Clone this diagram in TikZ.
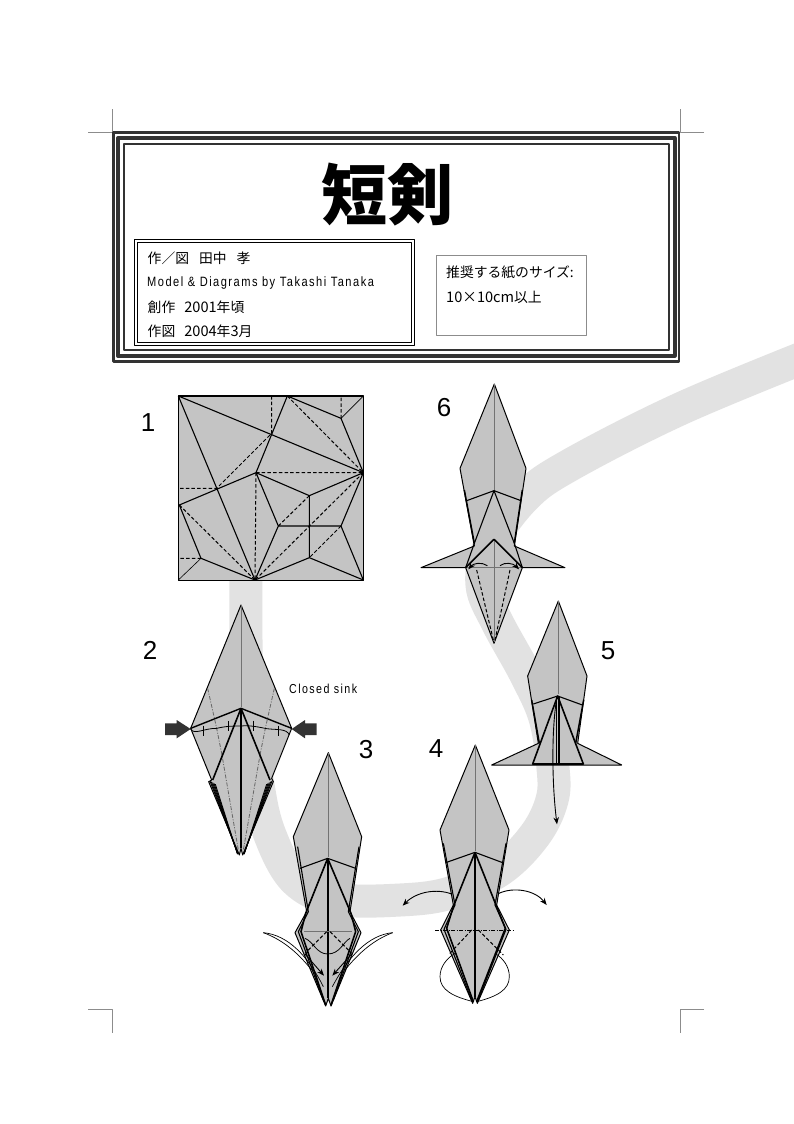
\documentclass[tikz,border=0pt]{standalone}
\usepackage{fontspec}
\setmainfont{Liberation Sans}
\newfontfamily\cjk{Noto Sans CJK JP}
\newfontfamily\titlefont[UprightFont=* Black]{Noto Sans CJK JP}
\newfontfamily\narrowfont[FakeStretch=0.82,LetterSpace=11]{Liberation Sans}
\newcommand{\dgt}[1]{{\fontsize{14.6}{14}\selectfont #1}}
\usetikzlibrary{arrows.meta}
\definecolor{foldgray}{HTML}{C4C4C4}
\definecolor{bandgray}{HTML}{E2E2E2}
\definecolor{markgray}{HTML}{8C8C8C}
\definecolor{framedark}{HTML}{333333}

\begin{document}
\begin{tikzpicture}
    [x=1pt, y=-1pt, line join=round,
    fold/.style={draw=black, fill=foldgray, line width=1pt},
    crease/.style={draw=black, line width=1.1pt},
    heavy/.style={draw=black, line width=1.6pt},
    valley/.style={draw=black, line width=1pt, dash pattern=on 3.5pt off 2.2pt},
    mountain/.style={draw=black, line width=0.8pt, dash pattern=on 4pt off 1.5pt on 1pt off 1.5pt},
    axis/.style={draw=black!55, line width=0.8pt},
    pointer/.style={draw=black, line width=0.9pt, -{Stealth[length=7pt,width=5.5pt]}},
    stepno/.style={font=\fontsize{26}{26}\selectfont},
    infotext/.style={anchor=west, inner sep=0pt, font=\cjk\fontsize{13.8}{14}\selectfont}]
    \useasboundingbox (0, 0) rectangle (794, 1124);
    \fill[white] (0, 0) rectangle (794, 1124);
    % grey band behind the figures
    \draw[bandgray, line width=33pt] plot[smooth, tension=0.6] coordinates {
        (246, 570) (246, 640) (248, 700) (258, 785) (270, 835) (295, 880) (335, 899) (400, 900)
        (450, 893) (500, 870) (535, 835) (552, 800) (553, 768) (545, 718) (526, 675) (497, 622)
        (482, 585) (490, 545) (525, 497) (570, 465) (680, 409) (810, 355)};
    \fill[white] (794, 300) rectangle (840, 420);
    % crop marks
    \draw[markgray, line width=0.6pt] (88, 132) -- (112, 132) -- (112, 109);
    \draw[markgray, line width=0.6pt] (704, 132) -- (680, 132) -- (680, 109);
    \draw[markgray, line width=0.6pt] (88, 1009) -- (112, 1009) -- (112, 1033);
    \draw[markgray, line width=0.6pt] (704, 1009) -- (680, 1009) -- (680, 1033);
    % title frame
    \draw[framedark, line width=2.7pt] (113.7, 132.3) rectangle (679, 361.5);
    \draw[framedark, line width=4pt] (118, 138) rectangle (674.7, 355.8);
    \draw[framedark, line width=2pt] (124, 143.5) rectangle (668.7, 350.3);
    \node (title) at (387, 195) {\titlefont\fontsize{66}{66}\selectfont 短剣};
    % author box
    \draw[black, line width=1.4pt] (134.5, 239.5) rectangle (414.5, 345.5);
    \draw[black, line width=0.9pt] (137.5, 242.5) rectangle (411.5, 342.5);
    \node[infotext] (author) at (147.5, 258) {作／図\hspace{10pt}田中\hspace{10pt}孝};
    \node[infotext, font=\narrowfont\fontsize{13.5}{14}\selectfont] (model) at (147, 283) {Model \& Diagrams by Takashi Tanaka};
    \node[infotext] (created) at (147.5, 307) {創作\hspace{9pt}\dgt{2001}年頃};
    \node[infotext] (drawn) at (147.5, 331) {作図\hspace{9pt}\dgt{2004}年\dgt{3}月};
    % paper box
    \draw[markgray, line width=0.8pt] (436, 255) rectangle (586, 335);
    \node[infotext] (paper) at (446, 272) {推奨する紙のサイズ:};
    \node[infotext] (papersize) at (446, 297) {\dgt{10×10cm}以上};
    % step numbers
    \node[stepno] (one) at (148, 423) {1};
    \node[stepno] (two) at (150, 650) {2};
    \node[stepno] (three) at (366, 750) {3};
    \node[stepno] (four) at (436, 749) {4};
    \node[stepno] (five) at (608, 651) {5};
    \node[stepno] (six) at (444, 408) {6};
    \node[anchor=west, inner sep=0pt, font=\narrowfont\fontsize{13}{14}\selectfont] (sink) at (289, 689) {Closed sink};
    % figure 1
    \begin{scope}[shift={(170, 390)}, scale=1/3]
        \draw[fold, line width=1.2pt] (25, 18) rectangle (580, 572);
        \draw[crease] (25, 18) -- (255, 570) (25, 18) -- (580, 248)
            (352, 18) -- (258, 248) -- (28, 345) -- (93, 505) -- (255, 570) -- (418, 503) -- (580, 570) -- (513, 408) -- (580, 248) -- (418, 317) -- (258, 248) -- (325, 408) -- (255, 570)
            (418, 317) -- (418, 503) (325, 408) -- (513, 408)
            (352, 18) -- (513, 85) -- (580, 248);
        \draw[draw=black, line width=0.6pt] (513, 85) -- (580, 18) (93, 505) -- (25, 570);
        \draw[valley] (513, 85) -- (513, 18) (93, 505) -- (25, 505) (305, 18) -- (305, 130) -- (140, 295) -- (25, 295)
            (258, 248) -- (580, 248) (258, 248) -- (255, 570) (352, 18) -- (580, 248) (28, 345) -- (255, 570)
            (418, 317) -- (325, 408) (580, 248) -- (255, 570) (513, 408) -- (418, 503);
    \end{scope}
    % figure 2
    \begin{scope}[shift={(160, 600)}, scale=1/3]
        \draw[fold] (243, 15) -- (395, 385) -- (335, 535) -- (340, 545) -- (248, 765) -- (243, 745) -- (238, 765) -- (146, 545) -- (155, 540) -- (92, 385) -- cycle;
        \draw[axis] (243, 15) -- (243, 320);
        \draw[crease, line width=1.4pt] (92, 385) -- (243, 325) -- (395, 385);
        \draw[mountain, black!60] (143, 265) -- (170, 385) -- (185, 460) -- (235, 750) (343, 265) -- (316, 385) -- (301, 460) -- (250, 750);
        \foreach \i in {0, 4, ..., 16} {
            \draw[draw=black, line width=0.9pt] (150+\i, 543+\i*0.6) -- (234-\i*0.1, 762);
            \draw[draw=black, line width=0.9pt] (336-\i, 543+\i*0.6) -- (251+\i*0.1, 762);
        }
        \draw[heavy] (243, 325) -- (158, 540) (243, 325) -- (330, 540);
        \draw[draw=black, line width=2.4pt] (243, 325) -- (243, 745);
        \draw[draw=black, line width=0.8pt] (92, 388) .. controls (105, 405) and (130, 385) .. (170, 385) .. controls (200, 378) and (220, 378) .. (243, 378) .. controls (270, 375) and (300, 382) .. (320, 386) .. controls (350, 390) and (380, 385) .. (388, 405);
        \foreach \i/\j in {130/392, 205/378, 280/377, 355/392}
            \draw[draw=black, line width=0.7pt] (\i, \j-15) -- (\i, \j+15);
        \fill[framedark] (15, 370) -- (50, 370) -- (50, 360) -- (92, 387) -- (50, 415) -- (50, 405) -- (15, 405) -- cycle;
        \fill[framedark] (470, 370) -- (435, 370) -- (435, 360) -- (395, 387) -- (435, 415) -- (435, 405) -- (470, 405) -- cycle;
    \end{scope}
    % figure 3
    \begin{scope}[shift={(255, 750)}, scale=1/3]
        \draw[fold] (220, 8) -- (320, 260) -- (285, 485) -- (318, 548) -- (228, 768) -- (220, 745) -- (212, 768) -- (120, 548) -- (155, 485) -- (115, 260) -- cycle;
        \draw[axis] (220, 8) -- (220, 320);
        \draw[crease] (135, 355) -- (218, 325) -- (302, 355);
        \draw[crease] (128, 290) -- (160, 485) -- (130, 545) -- (205, 750);
        \draw[crease] (312, 290) -- (280, 485) -- (310, 545) -- (235, 750);
        \draw[heavy] (218, 325) -- (152, 490) -- (138, 545) -- (212, 765);
        \draw[heavy] (218, 325) -- (288, 490) -- (302, 545) -- (228, 765);
        \draw[draw=black, line width=1.8pt] (218, 325) -- (218, 745);
        \draw[axis] (148, 545) -- (290, 545);
        \draw[valley] (215, 545) -- (150, 610) (225, 545) -- (290, 610);
        \draw[draw=black, line width=0.8pt] (150, 565) .. controls (175, 575) and (185, 612) .. (218, 612) .. controls (255, 612) and (265, 575) .. (285, 565);
        \draw[pointer] (150, 612) -- (207, 677);
        \draw[pointer] (290, 612) -- (232, 677);
        \draw[draw=black, line width=0.7pt] (25, 548) .. controls (100, 555) and (160, 620) .. (205, 710);
        \draw[draw=black, line width=0.7pt] (25, 548) .. controls (85, 570) and (130, 610) .. (170, 660);
        \draw[draw=black, line width=0.7pt] (413, 548) .. controls (340, 555) and (280, 620) .. (232, 710);
        \draw[draw=black, line width=0.7pt] (413, 548) .. controls (355, 570) and (310, 610) .. (270, 660);
    \end{scope}
    % figure 4
    \begin{scope}[shift={(400, 740)}, scale=1/3]
        \draw[fold] (226, 15) -- (327, 270) -- (290, 495) -- (328, 570) -- (232, 790) -- (225, 770) -- (218, 790) -- (122, 570) -- (160, 495) -- (120, 270) -- cycle;
        \draw[axis] (226, 15) -- (226, 332);
        \draw[crease] (137, 368) -- (225, 337) -- (308, 368);
        \draw[crease] (130, 310) -- (165, 495) -- (132, 568) -- (215, 780);
        \draw[crease] (318, 310) -- (285, 495) -- (318, 568) -- (235, 780);
        \draw[heavy] (225, 337) -- (160, 500) -- (140, 565) -- (220, 785);
        \draw[heavy] (225, 337) -- (290, 500) -- (316, 565) -- (230, 785);
        \draw[draw=black, line width=2pt] (225, 337) -- (225, 770);
        \draw[mountain] (105, 570) -- (340, 570);
        \draw[valley] (215, 570) -- (145, 645) (235, 570) -- (310, 645);
        \draw[pointer] (155, 462) .. controls (110, 445) and (50, 455) .. (8, 497);
        \draw[pointer] (297, 460) .. controls (340, 440) and (405, 450) .. (440, 495);
        \draw[draw=black, line width=0.7pt] (220, 785) .. controls (160, 770) and (120, 750) .. (120, 710) .. controls (120, 680) and (140, 655) .. (165, 640);
        \draw[draw=black, line width=0.7pt] (230, 785) .. controls (290, 770) and (328, 750) .. (328, 710) .. controls (328, 680) and (310, 655) .. (285, 640);
    \end{scope}
    % figure 5
    \begin{scope}[shift={(485, 595)}, scale=1/3]
        \draw[fold] (220, 18) -- (306, 243) -- (278, 445) -- (410, 510) -- (20, 510) -- (160, 445) -- (128, 243) -- cycle;
        \draw[axis] (220, 18) -- (220, 298);
        \draw[crease] (145, 327) -- (218, 303) -- (292, 330);
        \draw[draw=black, line width=1.5pt] (140, 315) -- (163, 445) (296, 315) -- (272, 445);
        \draw[heavy] (218, 303) -- (143, 507) -- (295, 507) -- cycle;
        \draw[crease] (215, 303) -- (215, 510) (222, 303) -- (222, 510);
        \draw[pointer] (215, 312) .. controls (200, 400) and (200, 560) .. (216, 688);
    \end{scope}
    % figure 6
    \begin{scope}[shift={(415, 380)}, scale=1/3]
        \draw[fold] (238, 12) -- (333, 265) -- (298, 498) -- (450, 563) -- (322, 563) -- (237, 790) -- (152, 563) -- (18, 563) -- (178, 498) -- (135, 265) -- cycle;
        \draw[axis] (238, 12) -- (238, 332) (237, 478) -- (237, 785) (152, 563) -- (322, 563);
        \draw[crease] (155, 362) -- (237, 332) -- (318, 362);
        \draw[draw=black, line width=1.5pt] (148, 330) -- (178, 490) (322, 330) -- (298, 490);
        \draw[crease] (237, 332) -- (178, 490) -- (152, 563) (237, 332) -- (298, 490) -- (322, 563);
        \draw[heavy] (152, 563) -- (237, 478) -- (322, 563);
        \draw[valley] (185, 570) -- (235, 780) (285, 570) -- (240, 780);
        \draw[pointer] (217, 557) .. controls (200, 545) and (175, 550) .. (160, 568);
        \draw[pointer] (255, 557) .. controls (270, 545) and (295, 550) .. (312, 568);
    \end{scope}
\end{tikzpicture}
\end{document}
